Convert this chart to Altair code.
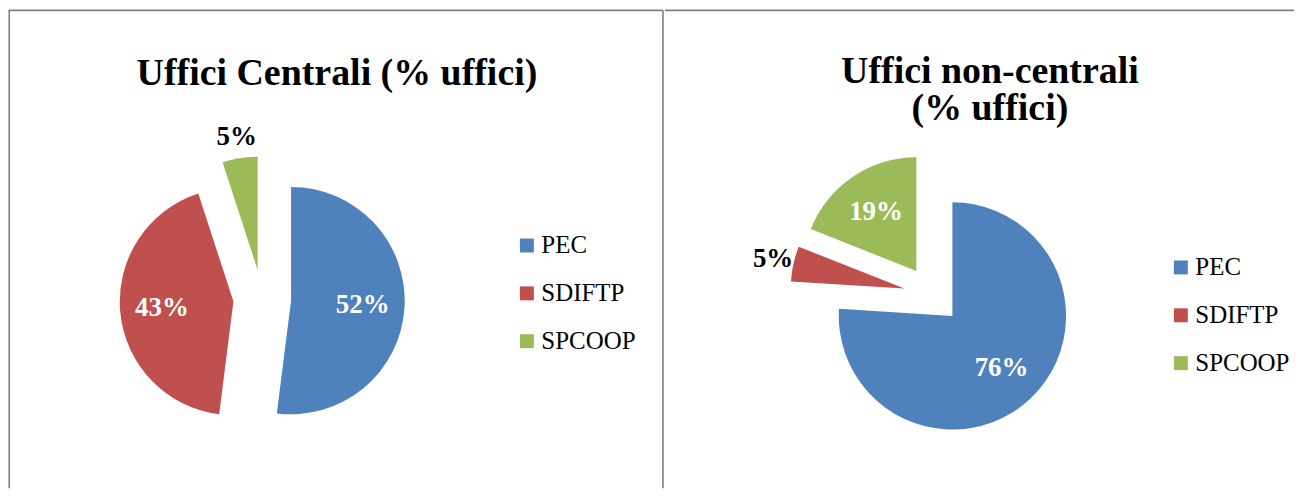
import altair as alt
import pandas as pd

# ---- data ----
categories = ["PEC", "SDIFTP", "SPCOOP"]
centrali = [52, 43, 5]
non_centrali = [76, 5, 19]
colors = ["#4F81BD", "#C0504D", "#9BBB59"]
title_left = "Uffici Centrali (% uffici)"
title_right = ["Uffici non-centrali", "(% uffici)"]

FONT = "Liberation Serif"
R = 114          # pie radius
EXPLODE = 29     # slice explosion distance
LAB_IN = 101     # label radius (inside labels)
LAB_OUT = 164    # label radius (outside labels)
H = 480
BORDER = "#808080"


def panel(values, title_text, cx, cy, tx, ty, lx, ly, w, left_border, right_border):
    df = pd.DataFrame({"cat": categories, "val": values, "order": list(range(len(values)))})
    base = (
        alt.Chart(df)
        .transform_window(cum="sum(val)", sort=[alt.SortField("order")], frame=[None, 0])
        .transform_joinaggregate(total="sum(val)")
        .transform_calculate(
            start="(datum.cum - datum.val) / datum.total",
            end="datum.cum / datum.total",
            mid="2 * PI * (datum.cum - datum.val / 2) / datum.total",
            label="datum.val + '%'",
        )
        .transform_calculate(
            ax=f"{cx} + {EXPLODE} * sin(datum.mid)",
            ay=f"{cy} - {EXPLODE} * cos(datum.mid)",
            lr=f"datum.val < 10 ? {LAB_OUT} : {LAB_IN}",
        )
        .transform_calculate(
            tx=f"{cx} + datum.lr * sin(datum.mid)",
            ty=f"{cy} - datum.lr * cos(datum.mid)",
        )
    )
    color = alt.Color(
        "cat:N",
        scale=alt.Scale(domain=categories, range=colors),
        legend=alt.Legend(
            orient="none", legendX=lx, legendY=ly, title=None,
            symbolType="square", symbolSize=196, symbolStrokeWidth=0,
            labelFont=FONT, labelFontSize=25, labelColor="black",
            labelOffset=2, rowPadding=22, padding=0, labelLimit=300,
        ),
    )
    arcs = base.mark_arc(radius=R, strokeWidth=0).encode(
        theta=alt.Theta("start:Q", scale=alt.Scale(domain=[0, 1]), stack=None),
        theta2="end:Q",
        x=alt.X("ax:Q", scale=None),
        y=alt.Y("ay:Q", scale=None),
        color=color,
    )
    labels = base.mark_text(
        font=FONT, fontSize=27, fontWeight="bold", align="center", baseline="middle"
    ).encode(
        x=alt.X("tx:Q", scale=None),
        y=alt.Y("ty:Q", scale=None),
        text="label:N",
        color=alt.condition("datum.val < 10", alt.value("black"), alt.value("white")),
    )
    dummy = alt.Chart(pd.DataFrame({"a": [0]}))
    title = dummy.mark_text(
        font=FONT, fontSize=38, fontWeight="bold", align="center",
        baseline="alphabetic", lineHeight=38, color="black",
    ).encode(x=alt.value(tx), y=alt.value(ty), text=alt.value(title_text))
    top = dummy.mark_rule(color=BORDER, strokeWidth=1.6).encode(
        x=alt.value(0), x2=alt.value(w), y=alt.value(0.6)
    )
    layers = [arcs, labels, title, top]
    if left_border is not None:
        layers.append(dummy.mark_rule(color=BORDER, strokeWidth=1.6).encode(
            x=alt.value(left_border), y=alt.value(0), y2=alt.value(H)))
    if right_border is not None:
        layers.append(dummy.mark_rule(color=BORDER, strokeWidth=1.6).encode(
            x=alt.value(right_border), y=alt.value(0.6), y2=alt.value(H)))
    return alt.layer(*layers).properties(width=w, height=H)


left = panel(centrali, title_left, 254, 290, 329, 75, 507, 224, 656, 0.2, 656)
right = panel(non_centrali, title_right, 268.5, 286, 326, 73, 505, 246, 631, None, None)

chart = (
    alt.hconcat(left, right, spacing=0)
    .resolve_scale(color="independent")
    .properties(padding=0, background="white")
    .configure_view(stroke=None)
)

chart.save("out.html", embed_options={"renderer": "svg", "actions": False})
